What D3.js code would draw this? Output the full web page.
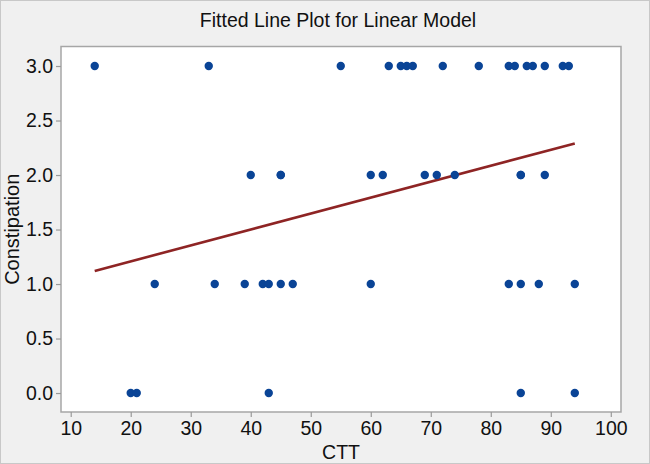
<!DOCTYPE html>
<html>
<head>
<meta charset="utf-8">
<script src="https://cdn.jsdelivr.net/npm/d3@7"></script>
<style>
  html, body { margin: 0; padding: 0; background: #f0f0f0; }
  svg { display: block; font-family: "Liberation Sans", Arial, sans-serif; }
</style>
</head>
<body>
<svg id="chart" width="650" height="464"></svg>
<script>
// ---- data ----
const title = "Fitted Line Plot for Linear Model";
const xLabel = "CTT";
const yLabel = "Constipation";
const ctt3 = [14, 33, 55, 63, 65, 66, 67, 72, 78, 83, 84, 86, 87, 89, 92, 93];
const ctt2 = [40, 45, 45, 60, 62, 69, 71, 74, 85, 85, 89];
const ctt1 = [24, 34, 39, 42, 43, 45, 47, 60, 83, 85, 88, 94];
const ctt0 = [20, 21, 43, 85, 94];
const fitX = [14, 94];
const fitY = [1.12, 2.29];
const xTicks = [10, 20, 30, 40, 50, 60, 70, 80, 90, 100];
const yTicks = [0, 0.5, 1, 1.5, 2, 2.5, 3];

const points = [
  ...ctt3.map(x => ({x, y: 3})),
  ...ctt2.map(x => ({x, y: 2})),
  ...ctt1.map(x => ({x, y: 1})),
  ...ctt0.map(x => ({x, y: 0}))
];

const W = 650, H = 464;
const frame = {left: 61, right: 621, top: 46.5, bottom: 412};
const svg = d3.select("#chart");

// outer border
svg.append("rect").attr("x", 0.5).attr("y", 0.5).attr("width", W - 1).attr("height", H - 1)
  .attr("fill", "#f0f0f0").attr("stroke", "#c8c8c8").attr("stroke-width", 1);

const x = d3.scaleLinear().domain([8.38, 101.7]).range([frame.left, frame.right]);
const y = d3.scaleLinear().domain([-0.174, 3.179]).range([frame.bottom, frame.top]);

// plot area
svg.append("rect")
  .attr("x", frame.left).attr("y", frame.top)
  .attr("width", frame.right - frame.left).attr("height", frame.bottom - frame.top)
  .attr("fill", "#ffffff").attr("stroke", "#a6a6a6").attr("stroke-width", 1.5);

// axes
const xAxis = svg.append("g").attr("transform", `translate(0,${frame.bottom})`)
  .call(d3.axisBottom(x).tickValues(xTicks).tickSize(5).tickPadding(4).tickFormat(d3.format("d")));
const yAxis = svg.append("g").attr("transform", `translate(${frame.left},0)`)
  .call(d3.axisLeft(y).tickValues(yTicks).tickSize(5).tickPadding(3).tickFormat(d3.format(".1f")));
[xAxis, yAxis].forEach(g => {
  g.select(".domain").remove();
  g.selectAll(".tick line").attr("stroke", "#9a9a9a").attr("stroke-width", 1.2);
  g.selectAll(".tick text").attr("fill", "#111").style("font-size", "19.5px")
    .style("font-family", "'Liberation Sans', Arial, sans-serif");
});

// fitted line
svg.append("line")
  .attr("x1", x(fitX[0])).attr("y1", y(fitY[0]))
  .attr("x2", x(fitX[1])).attr("y2", y(fitY[1]))
  .attr("stroke", "#8e2424").attr("stroke-width", 2.6);

// points
svg.append("g").selectAll("circle").data(points).join("circle")
  .attr("cx", d => x(d.x)).attr("cy", d => y(d.y)).attr("r", 4.2)
  .attr("fill", "#0a4496");

// title and labels
svg.append("text").attr("x", (frame.left + frame.right) / 2 - 3).attr("y", 27)
  .attr("text-anchor", "middle").attr("fill", "#111").style("font-size", "19.5px").text(title);
svg.append("text").attr("x", (frame.left + frame.right) / 2).attr("y", 459)
  .attr("text-anchor", "middle").attr("fill", "#111").style("font-size", "19.5px").text(xLabel);
svg.append("text").attr("transform", `translate(19,${(frame.top + frame.bottom) / 2}) rotate(-90)`)
  .attr("text-anchor", "middle").attr("fill", "#111").style("font-size", "20px").text(yLabel);
</script>
</body>
</html>
